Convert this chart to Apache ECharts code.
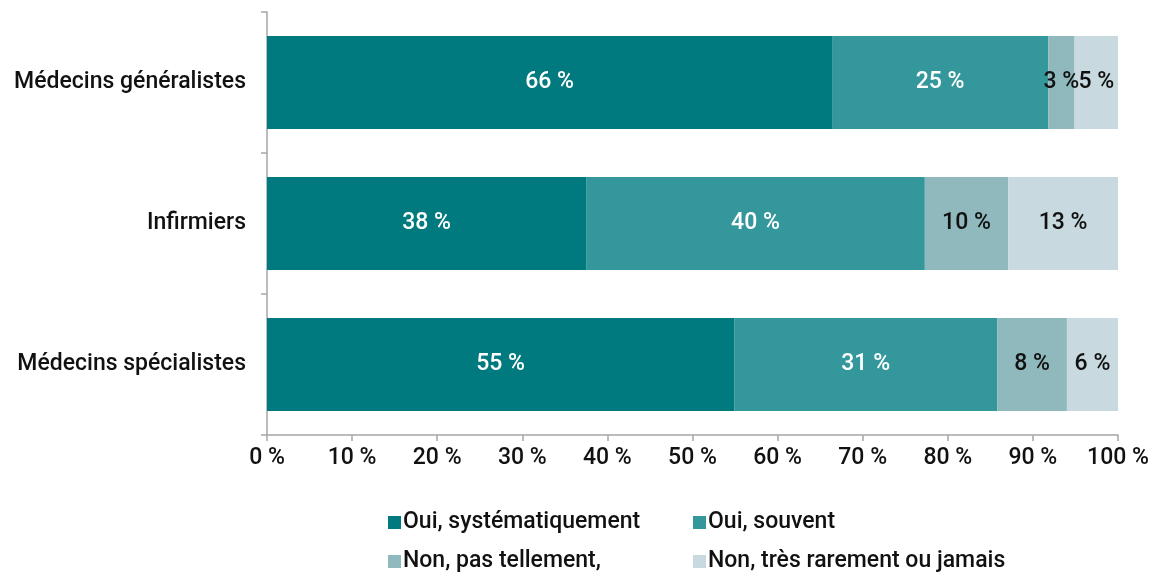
<!DOCTYPE html>
<html>
<head>
<meta charset="utf-8">
<script src="https://cdn.jsdelivr.net/npm/echarts@6/dist/echarts.min.js"></script>
<style>
  html, body { margin: 0; padding: 0; background: #fff; }
  #chart { width: 1161px; height: 572px; }
</style>
</head>
<body>
<div id="chart"></div>
<script>
const categories = ['Médecins généralistes', 'Infirmiers', 'Médecins spécialistes'];
const seriesNames = ['Oui, systématiquement', 'Oui, souvent', 'Non, pas tellement,', 'Non, très rarement ou jamais'];
const systematique = [66.4, 37.5, 54.9];
const souvent = [25.4, 39.8, 30.9];
const pasTellement = [3.1, 9.8, 8.2];
const rarement = [5.1, 12.9, 6.0];
const xTicks = [0, 10, 20, 30, 40, 50, 60, 70, 80, 90, 100];

const colors = ['#007a7f', '#33979c', '#8fb9bd', '#c8dadf'];
const labelColors = ['#ffffff', '#ffffff', '#111111', '#111111'];
const values = [systematique, souvent, pasTellement, rarement];
const font = 'Roboto';
const fs = 23;
const fw = 500;

const chart = echarts.init(document.getElementById('chart'));

const legendPos = [[383, 506], [688, 506], [383, 545], [688, 545]];

chart.setOption({
  animation: false,
  textStyle: { fontFamily: font },
  grid: { left: 267, right: 43, top: 12, bottom: 137 },
  legend: seriesNames.map((name, i) => ({
    data: [name],
    left: legendPos[i][0],
    top: legendPos[i][1],
    icon: 'rect',
    itemWidth: 13,
    itemHeight: 13,
    itemGap: 4,
    textStyle: { fontFamily: font, fontSize: fs, fontWeight: fw, color: '#111', padding: [0, 0, 0, -3] }
  })),
  xAxis: {
    type: 'value',
    min: 0,
    max: 100,
    interval: 10,
    splitLine: { show: false },
    axisLine: { show: true, lineStyle: { color: '#a6a6a6', width: 1.5 } },
    axisTick: { show: true, length: 6, lineStyle: { color: '#a6a6a6', width: 1.5 } },
    axisLabel: {
      fontFamily: font, fontSize: fs, fontWeight: fw, color: '#111', margin: 12,
      formatter: v => xTicks.includes(v) ? v + ' %' : ''
    }
  },
  yAxis: {
    type: 'category',
    data: categories,
    inverse: true,
    axisLine: { show: true, lineStyle: { color: '#a6a6a6', width: 1.5 } },
    axisTick: { show: true, length: 6, lineStyle: { color: '#a6a6a6', width: 1.5 } },
    axisLabel: { fontFamily: font, fontSize: fs, fontWeight: fw, color: '#111', margin: 21 }
  },
  series: seriesNames.map((name, i) => ({
    name: name,
    type: 'bar',
    stack: 'total',
    barCategoryGap: '34%',
    data: values[i],
    itemStyle: { color: colors[i] },
    label: {
      show: true,
      position: 'inside',
      fontFamily: font,
      fontSize: fs,
      fontWeight: fw,
      color: labelColors[i],
      formatter: p => Math.round(p.value) + ' %'
    }
  }))
});
</script>
</body>
</html>
